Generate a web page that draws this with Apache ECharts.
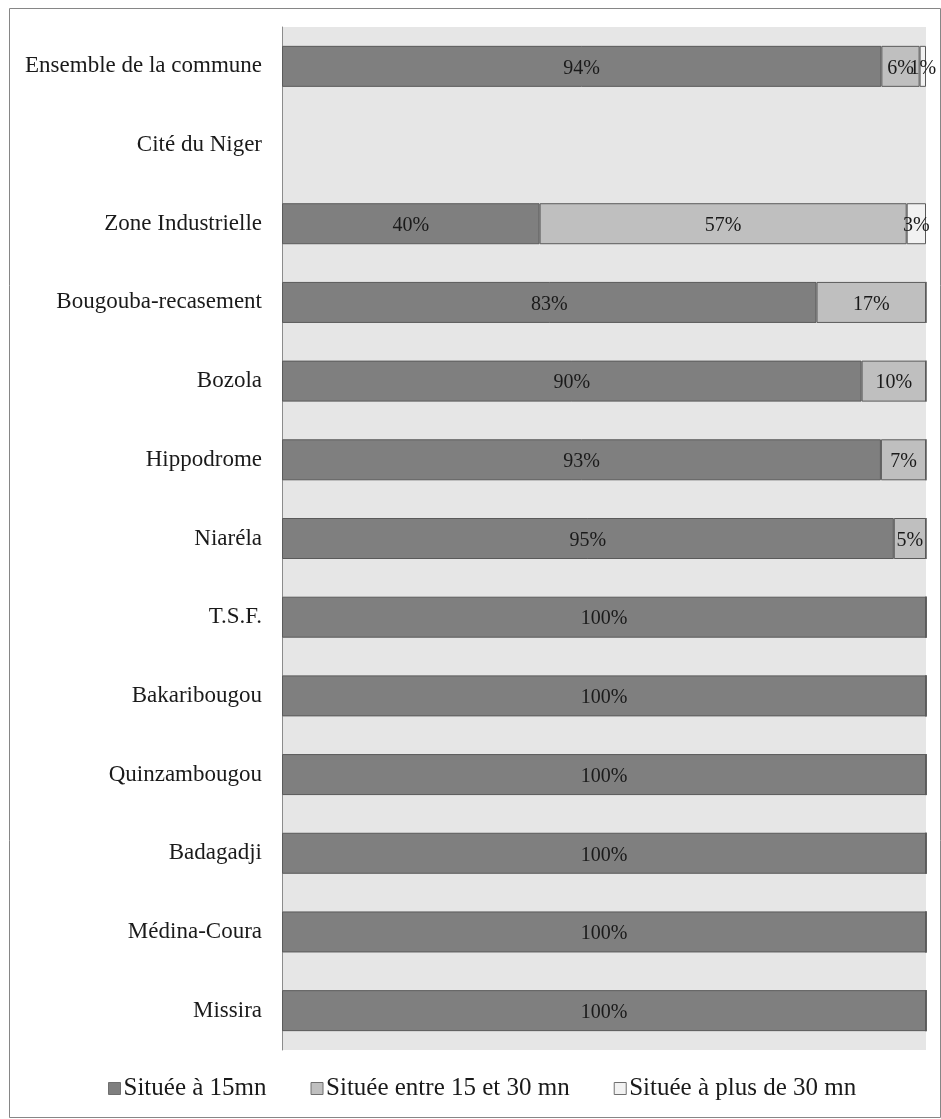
<!DOCTYPE html>
<html><head><meta charset="utf-8">
<script src="https://cdn.jsdelivr.net/npm/echarts@6/dist/echarts.min.js"></script>
<style>html,body{margin:0;padding:0;background:#fff}#c{width:941px;height:1119px}</style>
</head><body><div id="c"></div>
<script>
const categories = ["Ensemble de la commune","Cité du Niger","Zone Industrielle","Bougouba-recasement","Bozola","Hippodrome","Niaréla","T.S.F.","Bakaribougou","Quinzambougou","Badagadji","Médina-Coura","Missira"];
const seriesNames = ["Située à 15mn","Située entre 15 et 30 mn","Située à plus de 30 mn"];
const within15 = [94, null, 40, 83, 90, 93, 95, 100, 100, 100, 100, 100, 100];
const between15and30 = [6, null, 57, 17, 10, 7, 5, 0, 0, 0, 0, 0, 0];
const over30 = [1, null, 3, 0, 0, 0, 0, 0, 0, 0, 0, 0, 0];
const raw = [within15, between15and30, over30];
const colors = ['#7f7f7f', '#bfbfbf', '#f2f2f2'];

const sums = categories.map((_, i) => raw.reduce((s, a) => s + (a[i] || 0), 0));
const FONT = '"Liberation Serif", serif';

const series = raw.map((arr, k) => ({
  name: seriesNames[k],
  type: 'bar',
  stack: 'total',
  barWidth: 41,
  itemStyle: { color: colors[k], borderColor: '#5a5a5a', borderWidth: 1 },
  label: {
    show: true, position: 'inside', fontFamily: FONT, fontSize: 20, color: '#1a1a1a', offset: [0, 2],
    formatter: p => { const v = arr[p.dataIndex]; return v ? v + '%' : ''; }
  },
  data: arr.map((v, i) => v == null ? null : (sums[i] ? v / sums[i] * 100 : 0))
}));

const chart = echarts.init(document.getElementById('c'));
chart.setOption({
  animation: false,
  graphic: [{ type: 'rect', left: 7, top: 6, shape: { width: 931, height: 1109 }, style: { fill: 'none', stroke: '#868686', lineWidth: 1 }, silent: true }],
  grid: { left: 282, right: 15, top: 27, bottom: 69, show: true, backgroundColor: '#e6e6e6', borderWidth: 0 },
  xAxis: { type: 'value', min: 0, max: 100, show: false, splitLine: { show: false } },
  yAxis: {
    type: 'category', data: categories, inverse: true,
    axisLine: { show: true, lineStyle: { color: '#8c8c8c', width: 1 } },
    axisTick: { show: false },
    axisLabel: { fontFamily: FONT, fontSize: 23, color: '#1a1a1a', margin: 20 }
  },
  legend: {
    bottom: 13, left: 103, icon: 'rect', itemWidth: 12, itemHeight: 12, itemGap: 44,
    itemStyle: { borderColor: '#6f6f6f', borderWidth: 1 },
    textStyle: { fontFamily: FONT, fontSize: 25, color: '#1a1a1a', padding: [0, 0, 0, -2] },
    data: seriesNames
  },
  series: series
});
</script></body></html>
